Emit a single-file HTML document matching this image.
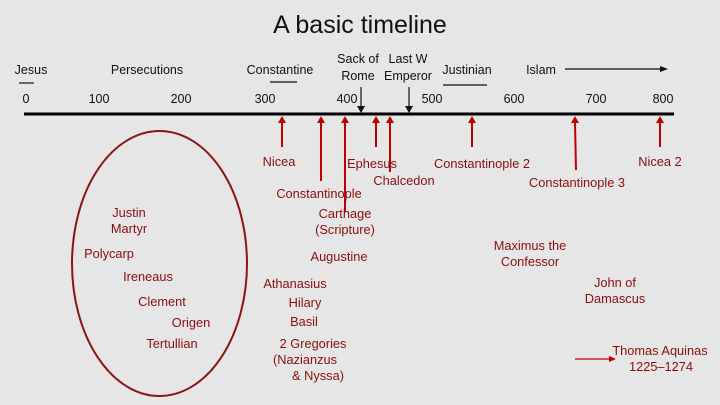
<!DOCTYPE html>
<html><head><meta charset="utf-8"><style>
html,body{margin:0;padding:0;background:#e6e6e6;}
svg{display:block;}
text{font-family:"Liberation Sans",sans-serif;}
.k{fill:#111;font-size:12.5px;text-anchor:middle;}
.r{fill:#8b0e0e;font-size:12.8px;text-anchor:middle;}
</style></head><body>
<svg width="720" height="405" viewBox="0 0 720 405" xmlns="http://www.w3.org/2000/svg">
<rect width="720" height="405" fill="#e6e6e6"/>
<text x="360" y="33" style="font-size:25px;text-anchor:middle;fill:#111">A basic timeline</text>
<line x1="24" y1="114" x2="674" y2="114" stroke="#000" stroke-width="3"/>
<g class="k">
<text x="26" y="103" class="k">0</text><text x="99" y="103" class="k">100</text><text x="181" y="103" class="k">200</text>
<text x="265" y="103" class="k">300</text><text x="347" y="103" class="k">400</text><text x="432" y="103" class="k">500</text>
<text x="514" y="103" class="k">600</text><text x="596" y="103" class="k">700</text><text x="663" y="103" class="k">800</text>
<text x="31" y="74" class="k">Jesus</text><text x="147" y="74" class="k">Persecutions</text><text x="280" y="74" class="k">Constantine</text>
<text x="358" y="63" class="k">Sack of</text><text x="358" y="80" class="k">Rome</text>
<text x="408" y="63" class="k">Last W</text><text x="408" y="80" class="k">Emperor</text>
<text x="467" y="74" class="k">Justinian</text><text x="541" y="74" class="k">Islam</text>
</g>
<g stroke="#111" stroke-width="1.2">
<line x1="19" y1="83" x2="34" y2="83"/><line x1="270" y1="82" x2="297" y2="82"/><line x1="443" y1="85" x2="487" y2="85"/>
<line x1="565" y1="69" x2="662" y2="69"/>
<line x1="361" y1="87" x2="361" y2="107"/><line x1="409" y1="87" x2="409" y2="107"/>
</g>
<g fill="#111"><polygon points="668,69 660,66 660,72"/><polygon points="361,113 357,106 365,106"/><polygon points="409,113 405,106 413,106"/></g>
<g stroke="#c00000" stroke-width="2">
<line x1="282" y1="122" x2="282" y2="147"/><line x1="321" y1="122" x2="321" y2="181"/><line x1="345" y1="122" x2="345" y2="212"/>
<line x1="376" y1="122" x2="376" y2="147"/><line x1="390" y1="122" x2="390" y2="172"/><line x1="472" y1="122" x2="472" y2="147"/>
<line x1="575" y1="122" x2="576" y2="170"/><line x1="660" y1="122" x2="660" y2="147"/>
<line x1="575" y1="359" x2="610" y2="359" stroke-width="1.2"/>
</g>
<g fill="#c00000">
<polygon points="282,116 278,123 286,123"/><polygon points="321,116 317,123 325,123"/><polygon points="345,116 341,123 349,123"/>
<polygon points="376,116 372,123 380,123"/><polygon points="390,116 386,123 394,123"/><polygon points="472,116 468,123 476,123"/>
<polygon points="575,116 571,123 579,123"/><polygon points="660,116 656,123 664,123"/><polygon points="616,359 609,356 609,362"/>
</g>
<ellipse cx="159.5" cy="263.5" rx="87.5" ry="132.5" fill="none" stroke="#8b1414" stroke-width="2"/>
<g>
<text x="279" y="166" class="r">Nicea</text><text x="319" y="198" class="r">Constantinople</text>
<text x="372" y="168" class="r">Ephesus</text><text x="404" y="185" class="r">Chalcedon</text>
<text x="482" y="168" class="r">Constantinople 2</text><text x="577" y="187" class="r">Constantinople 3</text>
<text x="660" y="166" class="r">Nicea 2</text>
<text x="345" y="218" class="r">Carthage</text><text x="345" y="234" class="r">(Scripture)</text>
<text x="339" y="261" class="r">Augustine</text><text x="295" y="288" class="r">Athanasius</text>
<text x="305" y="307" class="r">Hilary</text><text x="304" y="326" class="r">Basil</text>
<text x="313" y="348" class="r">2 Gregories</text><text x="305" y="364" class="r">(Nazianzus</text><text x="318" y="380" class="r">&amp; Nyssa)</text>
<text x="530" y="250" class="r">Maximus the</text><text x="530" y="266" class="r">Confessor</text>
<text x="615" y="287" class="r">John of</text><text x="615" y="303" class="r">Damascus</text>
<text x="660" y="355" class="r">Thomas Aquinas</text><text x="661" y="371" class="r">1225–1274</text>
<text x="129" y="217" class="r">Justin</text><text x="129" y="233" class="r">Martyr</text>
<text x="109" y="258" class="r">Polycarp</text><text x="148" y="281" class="r">Ireneaus</text>
<text x="162" y="306" class="r">Clement</text><text x="191" y="327" class="r">Origen</text>
<text x="172" y="348" class="r">Tertullian</text>
</g>
</svg>
</body></html>
